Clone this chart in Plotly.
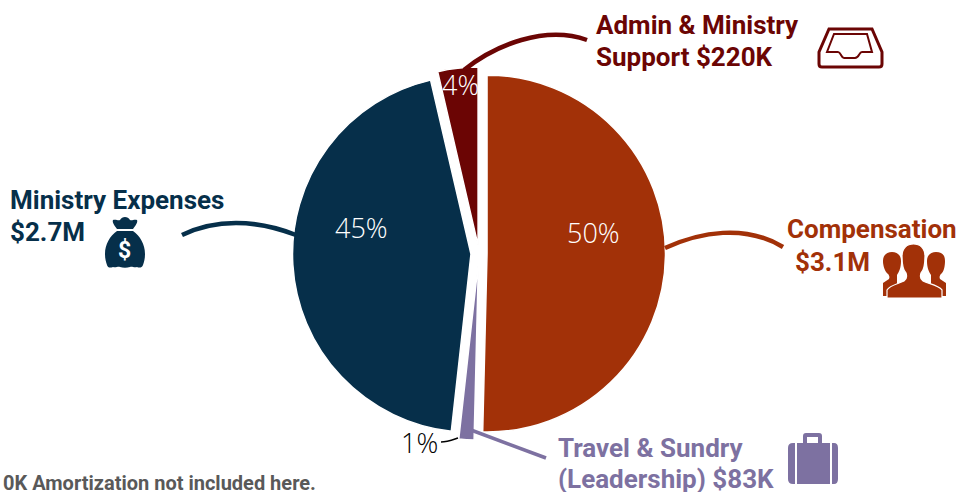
import plotly.graph_objects as go

W, H = 961, 492

# ---- data ----
categories = ["Compensation", "Travel & Sundry (Leadership)", "Ministry Expenses", "Admin & Ministry Support"]
amounts_k = [3050, 83, 2700, 220]
percent_labels = ["50%", "1%", "45%", "4%"]
slice_colors = ["#A23108", "#7D71A1", "#062F4A", "#6B0504"]
footnote = "0K Amortization not included here."


def px(x):
    return x / W


def py(y):
    return 1 - y / H


def path(s):
    out, is_x = [], True
    for tok in s.split():
        if tok.isalpha():
            out.append(tok)
            is_x = True
        else:
            out.append(f"{px(float(tok)):.5f}" if is_x else f"{py(float(tok)):.5f}")
            is_x = not is_x
    res, i = [], 0
    while i < len(out):
        if out[i].isalpha():
            res.append(out[i])
            i += 1
        else:
            res.append(out[i] + "," + out[i + 1])
            i += 2
    return " ".join(res)


def shape(s, fill=None, line=None, width=0, cap=None):
    d = dict(type="path", xref="paper", yref="paper", path=path(s), layer="above")
    d["fillcolor"] = fill if fill else "rgba(0,0,0,0)"
    d["line"] = dict(color=line if line else "rgba(0,0,0,0)", width=width)
    return d


comp, travel, minis, admin = slice_colors
shapes = [
    # leaders
    shape("M 665 248 C 700 232 745 224 783 247", line=comp, width=4.5),
    shape("M 182 235 C 215 219 255 219 296 235", line=minis, width=4.5),
    shape("M 464 70 C 495 45 545 25 587 40", line=admin, width=4.5),
    shape("M 471 430 L 546 458", line=travel, width=3.5),
    shape("M 441 442 C 447 442 452 440 458 438", line="#000000", width=1.5),
    # inbox icon
    shape("M 829 29 L 872 29 L 882 52 L 882 64 Q 882 67 879 67 L 822 67 Q 819 67 819 64 L 819 52 Z", line=admin, width=3),
    shape("M 834 34 L 867 34 L 872 52 L 862 52 C 859 52 859 58 855 58 L 844 58 C 841 58 841 52 838 52 L 827 52 Z", line=admin, width=2),
    # people icon
    shape("M 883 296 L 883 283 L 889 279 C 890 277 889 275 888 274 C 885 272 883 266 883 261 C 883 255 887 252 892 252 C 897 252 901 255 901 261 C 901 268 899 272 897 275 L 897 285 L 895 296 Z", fill=comp),
    shape("M 946 296 L 946 283 L 940 279 C 939 277 940 275 941 274 C 944 272 945 266 945 261 C 945 255 942 252 936 252 C 931 252 927 255 927 261 C 927 268 929 272 931 275 L 931 285 L 934 296 Z", fill=comp),
    shape("M 887 298 L 887 290 C 890 285 898 284 904 281 C 907 279 907 276 906 273 C 903 270 902 262 902 256 C 902 248 907 244 913.5 244 C 920 244 925 248 925 256 C 925 262 924 270 921 273 C 920 276 920 279 923 281 C 929 284 938 285 942 290 L 942 298 Z", fill=comp, line="#ffffff", width=1.2),
    # money bag icon
    shape("M 117 229 C 114 225 112 222 113 220 C 116 219 118 221 120 220 C 122 216 128 216 130 220 C 132 221 134 219 137 220 C 138 222 136 225 133 229 Z", fill=minis),
    shape("M 117 231 L 133 231 C 140 236 145 244 145 254 C 145 259 144 262 143 265 C 142 268 139 268 137 267 C 134 268 132 266 130 267 C 127 268 123 268 120 267 C 118 266 116 268 113 267 C 110 268 108 268 107 265 C 106 262 105 259 105 254 C 105 244 110 236 117 231 Z", fill=minis),
    # briefcase icon
    shape("M 803 444 L 803 436 Q 803 433 806 433 L 819 433 Q 822 433 822 436 L 822 444 L 818 444 L 818 437 L 807 437 L 807 444 Z", fill=travel),
    shape("M 797 443 L 830 443 L 830 484 L 797 484 Z", fill=travel),
    shape("M 795 443 L 795 484 L 793 484 Q 788 484 788 479 L 788 448 Q 788 443 793 443 Z", fill=travel),
    shape("M 832 443 L 834 443 Q 838 443 838 448 L 838 479 Q 838 484 834 484 L 832 484 Z", fill=travel),
]


def note(text, x, y, color, size, anchor="left", family="Roboto", weight=700):
    return dict(
        text=text, x=px(x), y=py(y), xref="paper", yref="paper", xanchor=anchor, yanchor="middle",
        showarrow=False, font=dict(family=family, size=size, color=color, weight=weight),
        borderpad=0, borderwidth=0,
    )


light = dict(family="Open Sans", weight=300)
annotations = [
    note("Ministry Expenses", 10, 200, minis, 26),
    note("$2.7M", 10, 232, minis, 26),
    note("Compensation", 957, 229, comp, 26, anchor="right"),
    note("$3.1M", 795, 262, comp, 26),
    note("Admin &amp; Ministry", 596, 25, admin, 26),
    note("Support $220K", 596, 57, admin, 26),
    note("Travel &amp; Sundry", 558, 448, travel, 26),
    note("(Leadership) $83K", 558, 479, travel, 26),
    note(footnote, 316, 483, "#595959", 20, anchor="right"),
    note("$", 125, 250, "#ffffff", 23, anchor="center"),
    note(percent_labels[0], 593, 232, "#FFFFFF", 27, anchor="center", **light),
    note(percent_labels[2], 361, 228, "#FFFFFF", 27, anchor="center", **light),
    note(percent_labels[3], 460, 85, "#FFFFFF", 27, anchor="center", **light),
    note(percent_labels[1], 419, 442, "#000000", 27, anchor="center", **light),
]

half = 186.5
fig = go.Figure(
    go.Pie(
        labels=categories,
        values=amounts_k,
        sort=False,
        direction="clockwise",
        rotation=0,
        pull=0.045,
        textinfo="none",
        hoverinfo="label+value",
        marker=dict(colors=slice_colors, line=dict(color="#ffffff", width=1.5)),
        domain=dict(x=[px(479 - half), px(479 + half)], y=[py(253.5 + half), py(253.5 - half)]),
        showlegend=False,
    )
)
fig.update_layout(
    width=W, height=H, margin=dict(l=0, r=0, t=0, b=0),
    paper_bgcolor="#ffffff", plot_bgcolor="#ffffff",
    shapes=shapes, annotations=annotations, showlegend=False,
)
fig.write_html(
    "out.html",
    config={"displayModeBar": False},
    post_script="document.body.style.margin='0';document.body.style.overflow='hidden';",
)
